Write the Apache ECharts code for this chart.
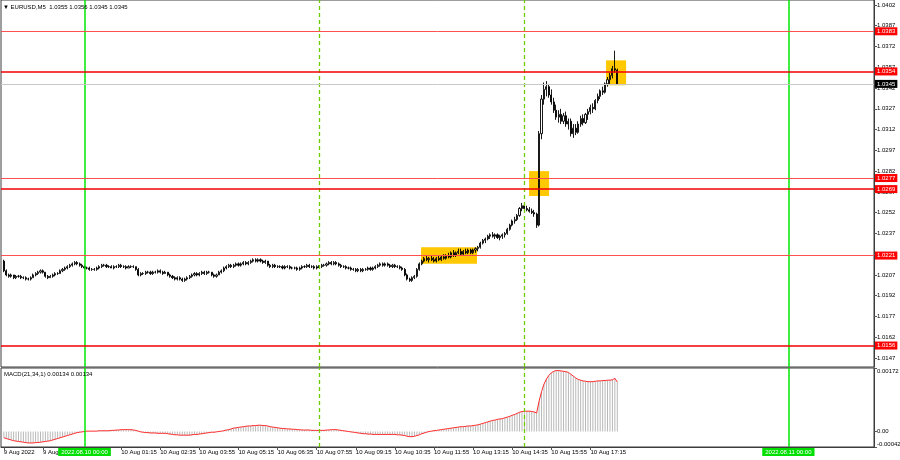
<!DOCTYPE html>
<html><head><meta charset="utf-8">
<script src="https://cdn.jsdelivr.net/npm/echarts@6/dist/echarts.min.js"></script>
<style>html,body{margin:0;padding:0;background:#fff}#c{width:900px;height:460px}</style>
</head><body><div id="c"></div>
<script>
// bar index 0 = 9 Aug 2022 21:15 (M5); each row [open, high, low, close]
const candles = [
[1.0217,1.0218,1.0209,1.0210],[1.0210,1.0211,1.0206,1.0207],[1.0207,1.0208,1.0205,1.0206],[1.0206,1.0208,1.0205,1.0207],[1.0207,1.0207,1.0204,1.0205],
[1.0205,1.0207,1.0204,1.0206],[1.0206,1.0207,1.0205,1.0206],[1.0206,1.0207,1.0204,1.0205],[1.0205,1.0206,1.0204,1.0205],[1.0205,1.0206,1.0203,1.0204],
[1.0204,1.0205,1.0203,1.0204],[1.0204,1.0206,1.0203,1.0205],[1.0205,1.0208,1.0205,1.0207],[1.0207,1.0209,1.0206,1.0208],[1.0208,1.0210,1.0207,1.0209],
[1.0209,1.0211,1.0208,1.0210],[1.0210,1.0211,1.0208,1.0209],[1.0209,1.0209,1.0205,1.0206],[1.0206,1.0207,1.0204,1.0205],[1.0205,1.0207,1.0205,1.0206],
[1.0206,1.0208,1.0205,1.0207],[1.0207,1.0209,1.0206,1.0208],[1.0208,1.0209,1.0207,1.0208],[1.0208,1.0211,1.0208,1.0210],[1.0210,1.0212,1.0209,1.0211],
[1.0211,1.0213,1.0210,1.0212],[1.0212,1.0214,1.0211,1.0213],[1.0213,1.0215,1.0212,1.0214],[1.0214,1.0216,1.0213,1.0215],[1.0215,1.0217,1.0214,1.0216],
[1.0216,1.0217,1.0214,1.0215],[1.0215,1.0216,1.0213,1.0214],[1.0214,1.0215,1.0212,1.0213],[1.0213,1.0214,1.0211,1.0212],[1.0212,1.0213,1.0211,1.0212],
[1.0212,1.0213,1.0210,1.0211],[1.0211,1.0212,1.0210,1.0211],[1.0211,1.0212,1.0210,1.0211],[1.0211,1.0213,1.0210,1.0212],[1.0212,1.0214,1.0211,1.0213],
[1.0213,1.0215,1.0212,1.0214],[1.0214,1.0215,1.0213,1.0214],[1.0214,1.0215,1.0212,1.0213],[1.0213,1.0214,1.0212,1.0213],[1.0213,1.0214,1.0212,1.0212],
[1.0212,1.0214,1.0211,1.0213],[1.0213,1.0214,1.0212,1.0213],[1.0213,1.0215,1.0212,1.0214],[1.0214,1.0215,1.0212,1.0213],[1.0213,1.0214,1.0212,1.0213],
[1.0213,1.0214,1.0211,1.0212],[1.0212,1.0214,1.0212,1.0213],[1.0213,1.0214,1.0212,1.0213],[1.0213,1.0214,1.0212,1.0213],[1.0213,1.0213,1.0210,1.0211],
[1.0211,1.0212,1.0206,1.0207],[1.0207,1.0209,1.0206,1.0208],[1.0208,1.0209,1.0207,1.0208],[1.0208,1.0210,1.0207,1.0209],[1.0209,1.0210,1.0208,1.0209],
[1.0209,1.0210,1.0207,1.0208],[1.0208,1.0210,1.0207,1.0209],[1.0209,1.0210,1.0208,1.0209],[1.0209,1.0211,1.0208,1.0210],[1.0210,1.0211,1.0208,1.0209],
[1.0209,1.0210,1.0207,1.0208],[1.0208,1.0210,1.0208,1.0209],[1.0209,1.0209,1.0206,1.0207],[1.0207,1.0208,1.0205,1.0206],[1.0206,1.0207,1.0204,1.0205],
[1.0205,1.0206,1.0203,1.0204],[1.0204,1.0206,1.0203,1.0205],[1.0205,1.0206,1.0203,1.0204],[1.0204,1.0205,1.0202,1.0203],[1.0203,1.0205,1.0202,1.0204],
[1.0204,1.0206,1.0203,1.0205],[1.0205,1.0207,1.0204,1.0206],[1.0206,1.0208,1.0205,1.0207],[1.0207,1.0209,1.0206,1.0208],[1.0208,1.0209,1.0206,1.0207],
[1.0207,1.0209,1.0206,1.0208],[1.0208,1.0210,1.0207,1.0209],[1.0209,1.0210,1.0207,1.0208],[1.0208,1.0210,1.0207,1.0209],[1.0209,1.0210,1.0208,1.0209],
[1.0209,1.0209,1.0206,1.0207],[1.0207,1.0208,1.0205,1.0206],[1.0206,1.0208,1.0205,1.0207],[1.0207,1.0210,1.0207,1.0209],[1.0209,1.0211,1.0208,1.0210],
[1.0210,1.0213,1.0209,1.0212],[1.0212,1.0214,1.0211,1.0213],[1.0213,1.0215,1.0212,1.0214],[1.0214,1.0215,1.0212,1.0213],[1.0213,1.0215,1.0212,1.0214],
[1.0214,1.0216,1.0213,1.0215],[1.0215,1.0216,1.0213,1.0214],[1.0214,1.0216,1.0213,1.0215],[1.0215,1.0217,1.0214,1.0216],[1.0216,1.0217,1.0214,1.0215],
[1.0215,1.0217,1.0214,1.0216],[1.0216,1.0218,1.0215,1.0217],[1.0217,1.0219,1.0216,1.0218],[1.0218,1.0219,1.0216,1.0217],[1.0217,1.0219,1.0216,1.0218],
[1.0218,1.0219,1.0216,1.0217],[1.0217,1.0218,1.0215,1.0216],[1.0216,1.0218,1.0215,1.0217],[1.0217,1.0217,1.0213,1.0214],[1.0214,1.0215,1.0212,1.0213],
[1.0213,1.0215,1.0212,1.0214],[1.0214,1.0215,1.0212,1.0213],[1.0213,1.0214,1.0212,1.0213],[1.0213,1.0214,1.0212,1.0213],[1.0213,1.0214,1.0211,1.0212],
[1.0212,1.0214,1.0211,1.0213],[1.0213,1.0214,1.0212,1.0213],[1.0213,1.0214,1.0211,1.0212],[1.0212,1.0213,1.0211,1.0212],[1.0212,1.0213,1.0211,1.0212],
[1.0212,1.0213,1.0210,1.0211],[1.0211,1.0213,1.0210,1.0212],[1.0212,1.0214,1.0211,1.0213],[1.0213,1.0214,1.0212,1.0213],[1.0213,1.0215,1.0212,1.0214],
[1.0214,1.0215,1.0212,1.0213],[1.0213,1.0214,1.0212,1.0213],[1.0213,1.0214,1.0211,1.0212],[1.0212,1.0214,1.0211,1.0213],[1.0213,1.0214,1.0212,1.0213],
[1.0213,1.0215,1.0212,1.0214],[1.0214,1.0215,1.0213,1.0214],[1.0214,1.0216,1.0213,1.0215],[1.0215,1.0217,1.0214,1.0216],[1.0216,1.0217,1.0214,1.0215],
[1.0215,1.0217,1.0214,1.0216],[1.0216,1.0217,1.0214,1.0215],[1.0215,1.0216,1.0213,1.0214],[1.0214,1.0215,1.0212,1.0213],[1.0213,1.0214,1.0212,1.0213],
[1.0213,1.0214,1.0211,1.0212],[1.0212,1.0213,1.0211,1.0212],[1.0212,1.0213,1.0210,1.0211],[1.0211,1.0212,1.0210,1.0211],[1.0211,1.0212,1.0209,1.0210],
[1.0210,1.0212,1.0209,1.0211],[1.0211,1.0212,1.0209,1.0210],[1.0210,1.0212,1.0209,1.0211],[1.0211,1.0212,1.0210,1.0211],[1.0211,1.0213,1.0210,1.0212],
[1.0212,1.0213,1.0210,1.0211],[1.0211,1.0213,1.0210,1.0212],[1.0212,1.0214,1.0211,1.0213],[1.0213,1.0215,1.0212,1.0214],[1.0214,1.0216,1.0213,1.0215],
[1.0215,1.0216,1.0213,1.0214],[1.0214,1.0216,1.0213,1.0215],[1.0215,1.0216,1.0213,1.0214],[1.0214,1.0215,1.0212,1.0213],[1.0213,1.0215,1.0212,1.0214],
[1.0214,1.0215,1.0212,1.0213],[1.0213,1.0214,1.0212,1.0213],[1.0213,1.0214,1.0211,1.0212],[1.0212,1.0213,1.0210,1.0211],[1.0211,1.0212,1.0206,1.0207],
[1.0207,1.0208,1.0203,1.0204],[1.0204,1.0205,1.0202,1.0203],[1.0203,1.0206,1.0202,1.0205],[1.0205,1.0207,1.0204,1.0206],[1.0206,1.0212,1.0205,1.0211],
[1.0211,1.0216,1.0210,1.0215],[1.0215,1.0218,1.0214,1.0217],[1.0217,1.0220,1.0216,1.0219],[1.0219,1.0221,1.0217,1.0218],[1.0218,1.0220,1.0216,1.0219],
[1.0219,1.0221,1.0217,1.0218],[1.0218,1.0220,1.0216,1.0217],[1.0217,1.0220,1.0216,1.0219],[1.0219,1.0221,1.0217,1.0218],[1.0218,1.0221,1.0217,1.0220],
[1.0220,1.0222,1.0218,1.0219],[1.0219,1.0222,1.0218,1.0221],[1.0221,1.0223,1.0219,1.0220],[1.0220,1.0224,1.0219,1.0223],[1.0223,1.0225,1.0220,1.0221],
[1.0221,1.0224,1.0220,1.0223],[1.0223,1.0226,1.0222,1.0224],[1.0224,1.0226,1.0221,1.0222],[1.0222,1.0225,1.0221,1.0224],[1.0224,1.0226,1.0222,1.0223],
[1.0223,1.0226,1.0222,1.0225],[1.0225,1.0226,1.0222,1.0223],[1.0223,1.0226,1.0222,1.0225],[1.0225,1.0227,1.0223,1.0226],[1.0226,1.0228,1.0224,1.0227],
[1.0227,1.0231,1.0226,1.0230],[1.0230,1.0233,1.0229,1.0232],[1.0232,1.0234,1.0230,1.0233],[1.0233,1.0236,1.0232,1.0235],[1.0235,1.0237,1.0233,1.0236],
[1.0236,1.0238,1.0234,1.0235],[1.0235,1.0237,1.0233,1.0236],[1.0236,1.0237,1.0233,1.0234],[1.0234,1.0236,1.0232,1.0235],[1.0235,1.0237,1.0233,1.0236],
[1.0236,1.0238,1.0234,1.0237],[1.0237,1.0241,1.0236,1.0240],[1.0240,1.0244,1.0239,1.0243],[1.0243,1.0247,1.0242,1.0246],[1.0246,1.0249,1.0244,1.0247],
[1.0247,1.0251,1.0246,1.0250],[1.0250,1.0256,1.0249,1.0255],[1.0255,1.0259,1.0253,1.0257],[1.0257,1.0258,1.0254,1.0255],[1.0255,1.0257,1.0253,1.0254],
[1.0254,1.0256,1.0252,1.0253],[1.0253,1.0255,1.0251,1.0252],[1.0252,1.0254,1.0249,1.0251],[1.0251,1.0252,1.0241,1.0243],[1.0243,1.0311,1.0242,1.0309],
[1.0309,1.0337,1.0305,1.0334],[1.0334,1.0346,1.0330,1.0341],[1.0341,1.0347,1.0336,1.0343],[1.0343,1.0345,1.0335,1.0337],[1.0337,1.0341,1.0330,1.0332],
[1.0332,1.0335,1.0324,1.0326],[1.0326,1.0330,1.0319,1.0321],[1.0321,1.0326,1.0317,1.0323],[1.0323,1.0327,1.0316,1.0318],[1.0318,1.0324,1.0316,1.0322],
[1.0322,1.0325,1.0314,1.0316],[1.0316,1.0320,1.0312,1.0318],[1.0318,1.0320,1.0307,1.0309],[1.0309,1.0316,1.0306,1.0313],[1.0313,1.0316,1.0308,1.0310],
[1.0310,1.0318,1.0309,1.0316],[1.0316,1.0322,1.0314,1.0320],[1.0320,1.0323,1.0315,1.0317],[1.0317,1.0324,1.0316,1.0323],[1.0323,1.0327,1.0319,1.0325],
[1.0325,1.0330,1.0323,1.0328],[1.0328,1.0331,1.0324,1.0327],[1.0327,1.0334,1.0326,1.0333],[1.0333,1.0338,1.0331,1.0336],[1.0336,1.0341,1.0334,1.0340],
[1.0340,1.0343,1.0337,1.0339],[1.0339,1.0346,1.0338,1.0345],[1.0345,1.0350,1.0343,1.0348],[1.0348,1.0353,1.0345,1.0351],[1.0351,1.0358,1.0349,1.0356],
[1.0356,1.0369,1.0353,1.0355],[1.0355,1.0356,1.0345,1.0345]
];
// MACD(21,34,1) value per bar (signal period 1 equals main)
const macd = [
-0.00017,-0.00019,-0.00021,-0.00023,-0.00025,-0.00026,-0.00027,-0.00028,-0.00029,-0.00030,
-0.00031,-0.00031,-0.00031,-0.00030,-0.00030,-0.00029,-0.00028,-0.00027,-0.00026,-0.00025,
-0.00023,-0.00021,-0.00019,-0.00017,-0.00015,-0.00013,-0.00011,-0.00009,-0.00007,-0.00005,
-0.00003,-0.00002,-0.00001,0.00000,0.00001,0.00001,0.00001,0.00001,0.00001,0.00002,
0.00002,0.00002,0.00002,0.00002,0.00003,0.00003,0.00004,0.00004,0.00005,0.00005,
0.00005,0.00005,0.00005,0.00004,0.00003,0.00001,-0.00001,-0.00002,-0.00003,-0.00003,
-0.00004,-0.00004,-0.00004,-0.00005,-0.00005,-0.00005,-0.00005,-0.00006,-0.00007,-0.00008,
-0.00009,-0.00009,-0.00010,-0.00010,-0.00010,-0.00010,-0.00010,-0.00009,-0.00008,-0.00008,
-0.00007,-0.00006,-0.00005,-0.00004,-0.00003,-0.00002,-0.00002,-0.00001,0.00000,0.00001,
0.00002,0.00004,0.00005,0.00007,0.00009,0.00010,0.00011,0.00012,0.00013,0.00014,
0.00015,0.00015,0.00016,0.00016,0.00017,0.00017,0.00016,0.00016,0.00015,0.00013,
0.00012,0.00011,0.00010,0.00009,0.00008,0.00008,0.00007,0.00007,0.00006,0.00006,
0.00005,0.00005,0.00004,0.00004,0.00004,0.00004,0.00003,0.00003,0.00003,0.00003,
0.00003,0.00003,0.00004,0.00004,0.00005,0.00005,0.00005,0.00004,0.00003,0.00002,
0.00001,0.00000,-0.00001,-0.00002,-0.00003,-0.00004,-0.00005,-0.00006,-0.00006,-0.00007,
-0.00007,-0.00008,-0.00008,-0.00008,-0.00008,-0.00008,-0.00008,-0.00008,-0.00008,-0.00008,
-0.00008,-0.00009,-0.00009,-0.00010,-0.00011,-0.00013,-0.00014,-0.00014,-0.00013,-0.00011,
-0.00009,-0.00006,-0.00004,-0.00002,0.00000,0.00001,0.00002,0.00003,0.00004,0.00005,
0.00006,0.00007,0.00008,0.00009,0.00010,0.00011,0.00012,0.00013,0.00013,0.00014,
0.00015,0.00015,0.00016,0.00017,0.00018,0.00020,0.00022,0.00024,0.00026,0.00028,
0.00030,0.00031,0.00033,0.00034,0.00035,0.00037,0.00039,0.00041,0.00044,0.00046,
0.00049,0.00052,0.00054,0.00055,0.00055,0.00055,0.00054,0.00053,0.00050,0.00082,
0.00108,0.00128,0.00142,0.00152,0.00159,0.00163,0.00165,0.00165,0.00164,0.00163,
0.00162,0.00160,0.00155,0.00150,0.00145,0.00141,0.00139,0.00137,0.00136,0.00135,
0.00135,0.00135,0.00136,0.00137,0.00137,0.00138,0.00138,0.00139,0.00139,0.00140,
0.00144,0.00134
];
const priceTicks = [1.0402,1.0387,1.0372,1.0357,1.0342,1.0327,1.0312,1.0297,1.0282,1.0267,1.0252,1.0237,1.0222,1.0207,1.0192,1.0177,1.0162,1.0147];
const macdTicks = [-0.00042, 0, 0.00172];
const timeTicks = [[0,'9 Aug 2022'],[16,'9 Aug 22:35'],[48,'10 Aug 01:15'],[64,'10 Aug 02:35'],[80,'10 Aug 03:55'],[96,'10 Aug 05:15'],[112,'10 Aug 06:35'],[128,'10 Aug 07:55'],[144,'10 Aug 09:15'],[160,'10 Aug 10:35'],[176,'10 Aug 11:55'],[192,'10 Aug 13:15'],[208,'10 Aug 14:35'],[224,'10 Aug 15:55'],[240,'10 Aug 17:15']];
const levels = [1.0383, 1.0354, 1.0277, 1.0269, 1.0221, 1.0156];
const strongLevels = [1.0354, 1.0269, 1.0156];
const bidLevel = 1.0345;
const zones = [[170.7,193.6,1.0227,1.0215],[214.9,223.1,1.0282,1.0264],[246.4,254.6,1.0362,1.0344]];
const dayLines = [[33,'2022.08.10 00:00'],[321,'2022.08.11 00:00']];
const sessionLines = [129, 213];
const headerText = '\u25BC EURUSD,M5  1.0355 1.0356 1.0345 1.0345';
const macdText = 'MACD(21,34,1) 0.00134 0.00134';

const FONT = 'Liberation Sans';
const FS = 6;
const X_MIN = -1.166, X_MAX = 356.03;
const labelMap = {}; timeTicks.forEach(t => labelMap[t[0]] = t[1]);

const candleData = candles.map((r, i) => [i, r[0], r[3], r[2], r[1]]);
const macdData = macd.map((v, i) => [i, v]);

const greenSolid = {color:'#00e800', width:1.5, type:'solid'};
const greenDash = {color:'#6ccc00', width:1.3, type:[4,3]};

const vMain = dayLines.map(d => ({xAxis:d[0], lineStyle:greenSolid, label:{show:false}}))
  .concat(sessionLines.map(x => ({xAxis:x, lineStyle:greenDash, label:{show:false}})));
const vMacd = dayLines.map(d => ({xAxis:d[0], lineStyle:greenSolid, label:{show:true, position:'start', distance:1, formatter:d[1], backgroundColor:'#00e000', color:'#ffffff', fontSize:FS, fontFamily:FONT, padding:[1,3]}}))
  .concat(sessionLines.map(x => ({xAxis:x, lineStyle:greenDash, label:{show:false}})));

const hLines = levels.map(p => {
  const strong = strongLevels.indexOf(p) >= 0;
  return [{coord:[X_MIN, p], lineStyle:{color: strong ? '#f00000' : '#ff5050', width: strong ? 1.6 : 1, type:'solid'},
    label:{show:true, position:'end', distance:1, formatter:p.toFixed(4), backgroundColor:'#ff0000', color:'#ffffff', fontSize:FS, fontFamily:FONT, padding:[1,2]}},
    {coord:[X_MAX, p]}];
});
hLines.push([{coord:[X_MIN, bidLevel], lineStyle:{color:'#c8c8c8', width:1, type:'solid'},
  label:{show:true, position:'end', distance:1, formatter:bidLevel.toFixed(4), backgroundColor:'#000000', color:'#ffffff', fontSize:FS, fontFamily:FONT, padding:[1,2]}},
  {coord:[X_MAX, bidLevel]}]);

const chart = echarts.init(document.getElementById('c'));
chart.setOption({
  animation:false,
  backgroundColor:'#ffffff',
  textStyle:{fontFamily:FONT},
  title:[
    {text:headerText, left:3, top:4, padding:0, textStyle:{fontSize:FS, fontWeight:'normal', color:'#000', fontFamily:FONT}},
    {text:macdText, left:4, top:371, padding:0, textStyle:{fontSize:FS, fontWeight:'normal', color:'#000', fontFamily:FONT}}
  ],
  grid:[
    {left:1, top:0, width:873, height:367, show:true, borderColor:'#3c3c3c', borderWidth:1, backgroundColor:'transparent', outerBoundsMode:'none'},
    {left:1, top:368, width:873, height:79, show:true, borderColor:'#3c3c3c', borderWidth:1, backgroundColor:'transparent', outerBoundsMode:'none'}
  ],
  xAxis:[
    {type:'value', gridIndex:0, min:X_MIN, max:X_MAX, axisLine:{show:false, onZero:false}, axisTick:{show:false}, axisLabel:{show:false}, splitLine:{show:false}},
    {type:'value', gridIndex:1, min:X_MIN, max:X_MAX, position:'bottom',
      axisLine:{show:true, onZero:false, lineStyle:{color:'#3c3c3c', width:1}},
      axisTick:{show:true, length:3, customValues:timeTicks.map(t=>t[0]), lineStyle:{color:'#555'}},
      axisLabel:{show:true, customValues:timeTicks.map(t=>t[0]), formatter:v => labelMap[Math.round(v)] || '', align:'left', margin:2, fontSize:FS, color:'#000', fontFamily:FONT},
      splitLine:{show:false}}
  ],
  yAxis:[
    {type:'value', gridIndex:0, position:'right', min:1.01405, max:1.04056,
      axisLine:{show:true, onZero:false, lineStyle:{color:'#3c3c3c'}},
      axisTick:{show:true, length:3, customValues:priceTicks, lineStyle:{color:'#555'}},
      axisLabel:{show:true, customValues:priceTicks, formatter:v => v.toFixed(4), margin:3, fontSize:FS, color:'#000', fontFamily:FONT},
      splitLine:{show:false}},
    {type:'value', gridIndex:1, position:'right', min:-0.00042, max:0.00172,
      axisLine:{show:true, onZero:false, lineStyle:{color:'#3c3c3c'}},
      axisTick:{show:true, length:3, customValues:macdTicks, lineStyle:{color:'#555'}},
      axisLabel:{show:true, customValues:macdTicks, formatter:v => Math.abs(v) < 1e-9 ? '0.00' : v.toFixed(5), margin:3, fontSize:FS, color:'#000', fontFamily:FONT, verticalAlignMinLabel:'bottom', verticalAlignMaxLabel:'top'},
      splitLine:{show:false}}
  ],
  series:[
    {type:'candlestick', xAxisIndex:0, yAxisIndex:0, data:candleData, encode:{x:0, y:[1,2,3,4]}, barWidth:1.6,
      itemStyle:{color:'#ffffff', color0:'#000000', borderColor:'#000000', borderColor0:'#000000', borderWidth:0.9},
      markArea:{silent:true, itemStyle:{color:'#ffc800', opacity:1}, data:zones.map(z => [{xAxis:z[0], yAxis:z[2]}, {xAxis:z[1], yAxis:z[3]}])},
      markLine:{silent:true, symbol:['none','none'], animation:false, data:vMain}
    },
    {type:'line', xAxisIndex:0, yAxisIndex:0, data:[], silent:true,
      markLine:{silent:true, symbol:['none','none'], animation:false, data:hLines}},
    {type:'bar', xAxisIndex:1, yAxisIndex:1, data:macdData, barWidth:1, itemStyle:{color:'#b8b8b8'}, silent:true,
      markLine:{silent:true, symbol:['none','none'], animation:false, data:vMacd}},
    {type:'line', xAxisIndex:1, yAxisIndex:1, data:macdData, symbol:'none', lineStyle:{color:'#ff2a2a', width:1}, silent:true}
  ]
});
</script></body></html>
